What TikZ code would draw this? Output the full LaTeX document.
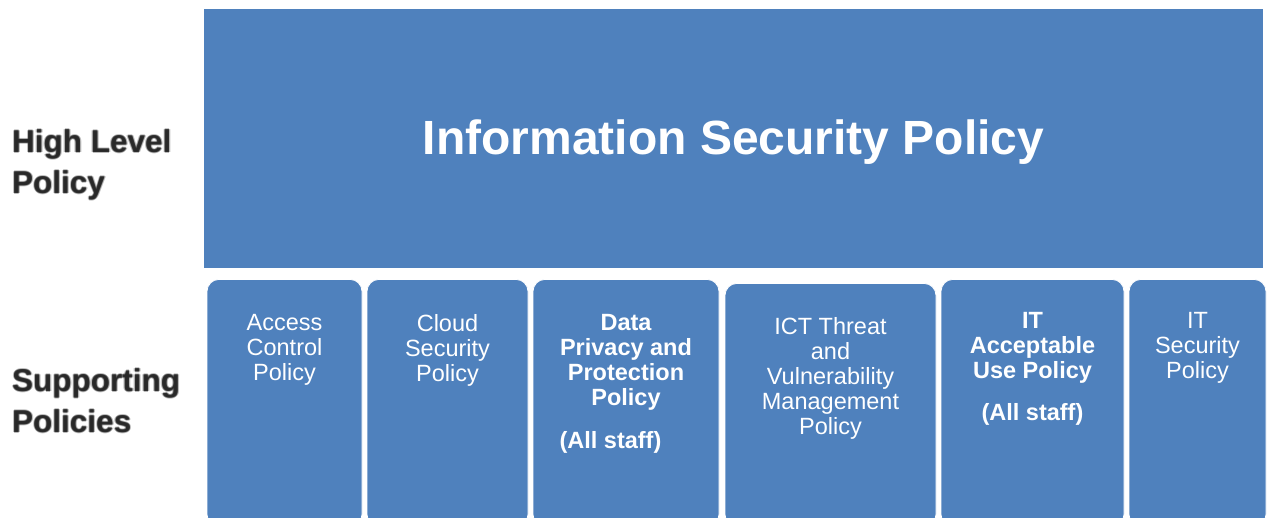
\documentclass[tikz,border=0pt]{standalone}
\usepackage{fontspec}
\setmainfont{Liberation Sans}
\usetikzlibrary{shapes,backgrounds}

\definecolor{policyblue}{RGB}{79,129,189}
\definecolor{labelgray}{RGB}{30,30,30}

\tikzset{
  subpolicy/.style={fill=policyblue, draw=white, line width=0.8pt,
    rounded corners=12pt, anchor=north, minimum height=247pt, inner sep=0pt},
  subtext/.style={text=white, align=center, anchor=north, inner sep=0pt,
    font=\fontsize{23.5}{25}\selectfont},
  sidelabel/.style={text=labelgray, align=left, anchor=west, inner sep=0pt,
    font=\bfseries\fontsize{31.5}{41}\selectfont}
}

\begin{document}
\begin{tikzpicture}[x=1pt,y=-1pt]

  \def\toprect{(204,9) rectangle (1263,268)}

  \useasboundingbox[fill=white] (0,0) rectangle (1270,518);

  \begin{scope}
      \fill[policyblue] \toprect;
      \node[text=white, font=\bfseries\fontsize{48}{50}\selectfont] (isp)
        at (733.5,142) {Information Security Policy};

      % supporting policies, one rounded box each
      \node[subpolicy, minimum width=155pt] (access) at (284.5,279) {};
      \node[subpolicy, minimum width=161pt] (cloud)  at (447.5,279) {};
      \node[subpolicy, minimum width=186pt] (privacy) at (626,279) {};
      \node[subpolicy, minimum width=211pt, minimum height=243pt] (ict) at (830.5,283) {};
      \node[subpolicy, minimum width=183pt] (aup) at (1032.5,279) {};
      \node[subpolicy, minimum width=137pt] (itsec) at (1197.5,279) {};

      \node[subtext] (accesstxt) at ([yshift=-35pt]access.north) {Access\\Control\\Policy};
      \node[subtext] (cloudtxt) at ([yshift=-35pt]cloud.north) {Cloud\\Security\\Policy};
      \node[subtext, font=\bfseries\fontsize{23.5}{25}\selectfont] (privacytxt)
        at ([yshift=-35pt]privacy.north)
        {Data\\Privacy and\\Protection\\Policy\\[18pt](All staff)\hspace*{31pt}};
      \node[subtext] (icttxt) at ([yshift=-34pt]ict.north)
        {ICT Threat\\and\\Vulnerability\\Management\\Policy};
      \node[subtext, font=\bfseries\fontsize{23.5}{25}\selectfont] (auptxt)
        at ([yshift=-33pt]aup.north) {IT\\Acceptable\\Use Policy\\[17pt](All staff)};
      \node[subtext] (itsectxt) at ([yshift=-33pt]itsec.north) {IT\\Security\\Policy};
  \end{scope}

  % row labels, drawn a few times slightly offset for a soft edge
  \foreach \dx/\dy in {-1.2/0, 1.2/0, 0/-1.2, 0/1.2} {
      \node[sidelabel, opacity=0.3] at (12+\dx,165+\dy) {High Level\\Policy};
      \node[sidelabel, opacity=0.3] at (12+\dx,400.5+\dy) {Supporting\\Policies};
  }
  \node[sidelabel, opacity=0.8] (high) at (12,165) {High Level\\Policy};
  \node[sidelabel, opacity=0.8] (support) at (12,400.5) {Supporting\\Policies};

\end{tikzpicture}
\end{document}
